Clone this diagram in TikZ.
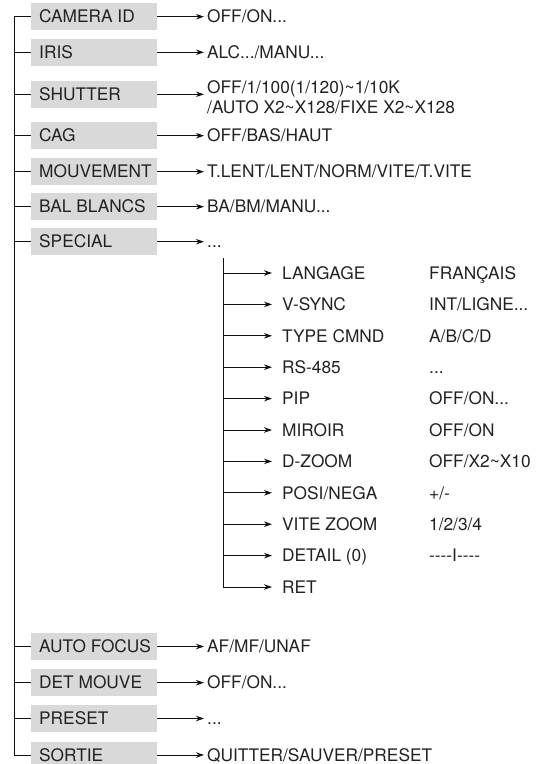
\documentclass[tikz,border=0pt]{standalone}
\usepackage{fontspec}
\setmainfont{TeX Gyre Heros}[Ligatures=TeXOff]
\usetikzlibrary{arrows.meta}
\definecolor{boxgray}{HTML}{D9D9D9}
\definecolor{txt}{HTML}{222222}
\definecolor{ln}{HTML}{111111}
\newcommand{\tld}{\textasciitilde}
\newcommand{\mb}[1]{\makebox[110pt][l]{#1}}
\begin{document}
\begin{tikzpicture}[x=1pt,y=-1pt,
  every node/.style={font=\fontsize{17.3}{20}\selectfont, text=txt},
  menubox/.style={fill=boxgray, anchor=west, minimum height=26.7pt, minimum width=126pt,
    inner xsep=8pt, inner ysep=0pt, text height=12.4pt, text depth=0pt},
  val/.style={anchor=west, inner sep=0pt, text height=12.4pt, text depth=0pt},
  link/.style={draw=ln, line width=0.9pt},
  arr/.style={link, -{Stealth[length=8pt,width=5.5pt]}},
  mainarr/.style={arr, shorten >=3pt},
  subarr/.style={arr, shorten >=10pt},
]
\useasboundingbox (0,0) rectangle (541,764);

% main menu boxes
\node[menubox] (b1)  at (31,16.7)  {\mb{CAMERA ID}};
\node[menubox] (b2)  at (31,52.3)  {\mb{IRIS}};
\node[menubox] (b3)  at (31,94.3)  {\mb{SHUTTER}};
\node[menubox] (b4)  at (31,135.7) {\mb{CAG}};
\node[menubox] (b5)  at (31,171.7) {\mb{MOUVEMENT}};
\node[menubox] (b6)  at (31,206.7) {\mb{BAL BLANCS}};
\node[menubox] (b7)  at (31,241.7) {\mb{SPECIAL}};
\node[menubox] (b8)  at (31,646.5) {\mb{AUTO FOCUS}};
\node[menubox] (b9)  at (31,682.7) {\mb{DET MOUVE}};
\node[menubox] (b10) at (31,718.5) {\mb{PRESET}};
\node[menubox] (b11) at (31,755)   {\mb{SORTIE}};

% values
\node[val] (v1)  at (207,16.7)  {OFF/ON...};
\node[val] (v2)  at (207,52.3)  {ALC.../MANU...};
\node[anchor=west, inner sep=0pt] (v3) at (207,99.6)
  {\begin{tabular}{@{}l@{}}OFF/1/100(1/120)\tld1/10K\\/AUTO X2\tld X128/FIXE X2\tld X128\end{tabular}};
\node[val] (v4)  at (207,135.7) {OFF/BAS/HAUT};
\node[val] (v5)  at (207,171.7) {T.LENT/LENT/NORM/VITE/T.VITE};
\node[val] (v6)  at (207,206.7) {BA/BM/MANU...};
\node[val] (v7)  at (207,241.7) {...};
\node[val] (v8)  at (207,646.5) {AF/MF/UNAF};
\node[val] (v9)  at (207,682.7) {OFF/ON...};
\node[val] (v10) at (207,718.5) {...};
\node[val] (v11) at (207,755)   {QUITTER/SAUVER/PRESET};

% main trunk
\draw[link] (b1.west) -- ++(-17,0) |- (b11.west);
\foreach \i in {2,...,10} \draw[link] (b\i.west) -- ++(-17,0);

% main arrows
\foreach \i in {1,2,4,5,6,7,8,9,10,11} \draw[mainarr] (b\i.east) -- (v\i.west);
\draw[mainarr] (b3.east) -- (b3.east -| v3.west);

% SPECIAL sub menu
\coordinate (sroot) at (223,258);
\node[val] (s1)  at (282,273)   {LANGAGE};
\node[val] (s2)  at (282,304.4) {V-SYNC};
\node[val] (s3)  at (282,335.8) {TYPE CMND};
\node[val] (s4)  at (282,367.2) {RS-485};
\node[val] (s5)  at (282,398.6) {PIP};
\node[val] (s6)  at (282,430)   {MIROIR};
\node[val] (s7)  at (282,461.4) {D-ZOOM};
\node[val] (s8)  at (282,492.8) {POSI/NEGA};
\node[val] (s9)  at (282,524.2) {VITE ZOOM};
\node[val] (s10) at (282,555.6) {DETAIL (0)};
\node[val] (s11) at (282,587)   {RET};

\node[val] (w1)  at (429,273)   {FRANÇAIS};
\node[val] (w2)  at (429,304.4) {INT/LIGNE...};
\node[val] (w3)  at (429,335.8) {A/B/C/D};
\node[val] (w4)  at (429,367.2) {...};
\node[val] (w5)  at (429,398.6) {OFF/ON...};
\node[val] (w6)  at (429,430)   {OFF/ON};
\node[val] (w7)  at (429,461.4) {OFF/X2\tld X10};
\node[val] (w8)  at (429,492.8) {+/-};
\node[val] (w9)  at (429,524.2) {1/2/3/4};
\node[val] (w10) at (429,555.6) {----I----};

\foreach \i in {1,...,10} \draw[subarr] (sroot |- s\i.west) -- (s\i.west);
\draw[subarr] (sroot) |- (s11.west);
\end{tikzpicture}
\end{document}
